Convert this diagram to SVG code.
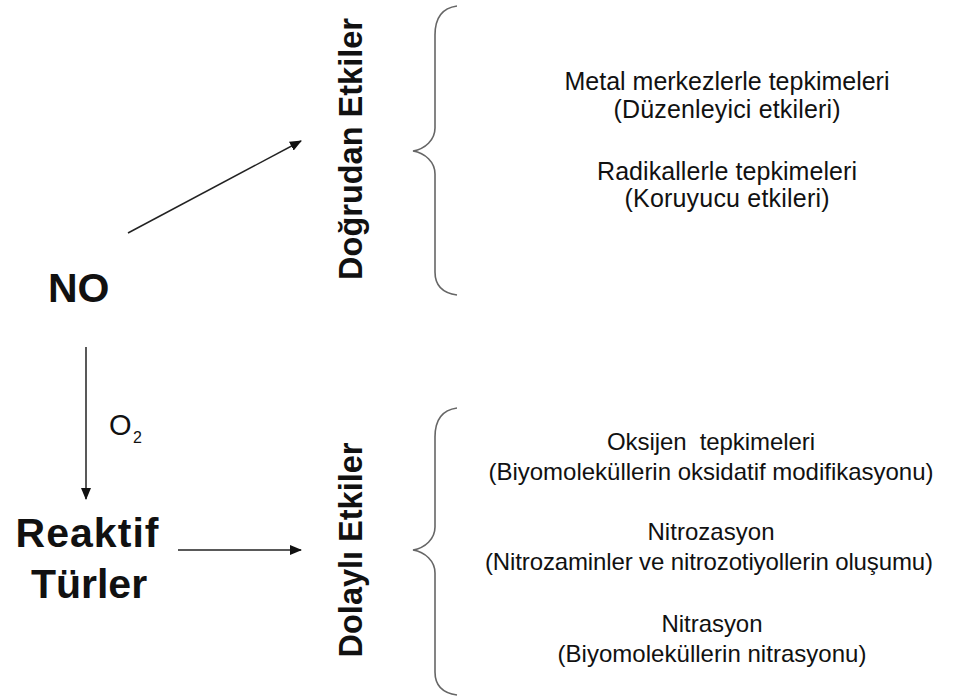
<svg xmlns="http://www.w3.org/2000/svg" width="970" height="698" viewBox="0 0 970 698">
<style>
.big{font-family:"Liberation Sans",Arial,sans-serif;font-weight:bold;fill:#111}
.vert{font-family:"Liberation Sans",Arial,sans-serif;font-weight:bold;font-size:32.5px;fill:#111;text-anchor:middle}
.item{font-family:"Liberation Sans",Arial,sans-serif;fill:#111;text-anchor:middle;white-space:pre}
.up{font-size:25px}
.lo{font-size:24px}
.conn{stroke:#222;stroke-width:1.5;fill:none}
.brace{stroke:#666;stroke-width:1.6;fill:none}
</style>
<defs>
<marker id="ah" viewBox="0 0 12 10" refX="11" refY="5" markerWidth="12" markerHeight="10" markerUnits="userSpaceOnUse" orient="auto">
<path d="M0,0 L12,5 L0,10 Z" fill="#111"/>
</marker>
</defs>
<rect width="970" height="698" fill="#fff"/>
<g id="connectors">
<line class="conn" x1="128" y1="233" x2="301" y2="141" marker-end="url(#ah)"/>
<line class="conn" x1="86" y1="347" x2="86" y2="499" marker-end="url(#ah)"/>
<line class="conn" x1="178" y1="550" x2="301" y2="550" marker-end="url(#ah)"/>
</g>
<g id="o2-label">
<text x="109" y="435" font-family="Liberation Sans, Arial, sans-serif" font-size="29" fill="#111">O</text>
<text x="133" y="443" font-family="Liberation Sans, Arial, sans-serif" font-size="16" fill="#111">2</text>
</g>
<g id="node-no">
<text class="big" x="48" y="302" font-size="41">NO</text>
</g>
<g id="node-reaktif">
<text class="big" x="87" y="547" font-size="41" text-anchor="middle" textLength="143">Reaktif</text>
<text class="big" x="89" y="598" font-size="41" text-anchor="middle">Türler</text>
</g>
<g id="node-dogrudan">
<text class="vert" transform="translate(362,149) rotate(-90)">Doğrudan Etkiler</text>
</g>
<g id="node-dolayli">
<text class="vert" transform="translate(362,550) rotate(-90)">Dolaylı Etkiler</text>
</g>
<g id="brace-upper">
<path class="brace" d="M457,6 C442,8 435,18 435,35 L435,128 C435,140 425,149 413,151 C425,153 435,162 435,174 L435,272 C435,285 442,293 457,295"/>
</g>
<g id="brace-lower">
<path class="brace" d="M457,408 C442,410 435,420 435,437 L435,527 C435,539 425,548 413,550 C425,552 435,561 435,573 L435,672 C435,685 442,693 457,695"/>
</g>
<g id="direct-effects">
<text class="item up" x="727" y="90" textLength="325">Metal merkezlerle tepkimeleri</text>
<text class="item up" x="727" y="118" textLength="227">(Düzenleyici etkileri)</text>
<text class="item up" x="727" y="180" textLength="260">Radikallerle tepkimeleri</text>
<text class="item up" x="727" y="207" textLength="205">(Koruyucu etkileri)</text>
</g>
<g id="indirect-effects">
<text class="item lo" x="711" y="450" textLength="208">Oksijen  tepkimeleri</text>
<text class="item lo" x="711" y="480" textLength="445">(Biyomoleküllerin oksidatif modifikasyonu)</text>
<text class="item lo" x="711" y="540" textLength="127">Nitrozasyon</text>
<text class="item lo" x="709" y="570" textLength="448">(Nitrozaminler ve nitrozotiyollerin oluşumu)</text>
<text class="item lo" x="712" y="632" textLength="101">Nitrasyon</text>
<text class="item lo" x="712" y="662" textLength="309">(Biyomoleküllerin nitrasyonu)</text>
</g>
</svg>
